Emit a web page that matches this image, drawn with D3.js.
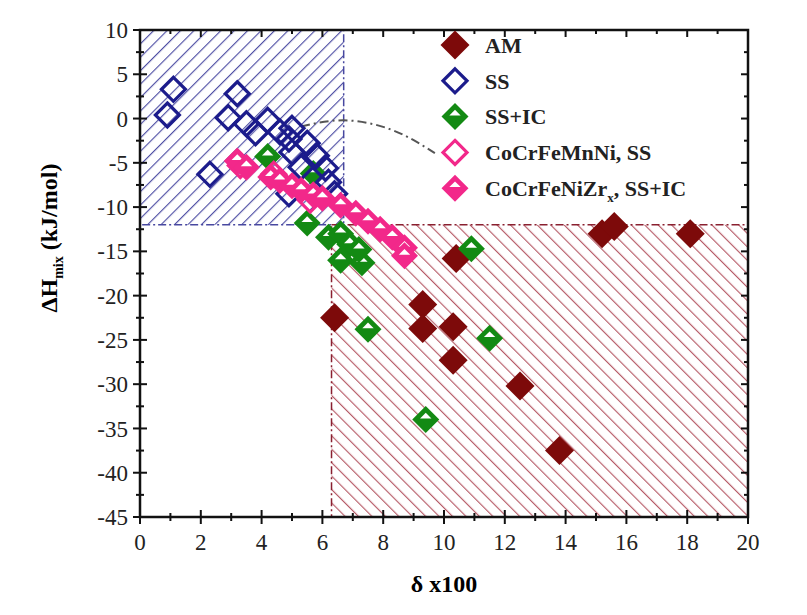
<!DOCTYPE html>
<html>
<head>
<meta charset="utf-8">
<script src="https://cdn.jsdelivr.net/npm/d3@7"></script>
<style>
  body { margin: 0; background: #fff; }
  svg { font-family: "Liberation Serif", "DejaVu Serif", serif; }
</style>
</head>
<body>
<svg id="chart" width="807" height="615"></svg>
<script>
// data (delta x100, dHmix kJ/mol)
const amPoints = [[6.4, -22.5], [9.3, -21.0], [9.3, -23.7], [10.3, -23.5], [10.3, -27.3], [10.4, -15.8],
  [12.5, -30.2], [13.8, -37.5], [15.2, -13.0], [15.6, -12.2], [18.1, -13.0]];
const ssPoints = [[0.9, 0.4], [1.1, 3.3], [2.3, -6.3], [2.9, 0.1], [3.2, 2.8], [3.5, -0.6], [3.8, -1.6],
  [4.2, -0.2], [4.6, -1.5], [5.0, -1.1], [4.9, -2.3], [5.0, -3.8], [5.5, -2.8], [5.8, -4.2], [6.1, -5.6],
  [5.3, -5.5], [4.9, -8.5], [6.2, -7.2], [6.4, -8.5]];
const ssIcPoints = [[4.2, -4.3], [5.7, -6.2], [5.5, -11.8], [6.2, -13.4], [6.6, -13.0], [6.9, -14.2],
  [6.6, -16.0], [7.3, -16.3], [7.2, -14.8], [7.5, -23.8], [9.4, -34.0], [10.9, -14.7], [11.5, -24.8]];
const mnNiPoints = [[3.3, -5.3], [4.4, -6.3], [5.6, -9.2]];
const zrPoints = [[3.2, -4.8], [3.5, -5.5], [4.3, -6.6], [4.6, -7.0], [5.0, -7.6], [5.3, -8.1], [5.7, -8.6],
  [6.0, -9.0], [6.6, -9.8], [7.1, -10.7], [7.5, -11.6], [7.9, -12.5], [8.3, -13.4], [8.7, -14.6], [8.7, -15.5]];

const xTicks = d3.range(0, 21, 2);
const yTicks = d3.range(10, -46, -5);
// shaded regions: [x0, x1, y0, y1]
const ssRegion = [0, 6.7, 10, -12];
const amRegion = [6.3, 20, -12, -45];
// dash-dot guide from the SS cluster to the legend
const guide = [[5.3, -0.9], [6.7, -0.2], [8.3, -1.3], [9.7, -3.9]];

const margin = { top: 30, right: 59, bottom: 98, left: 140 };
const width = 807 - margin.left - margin.right;
const height = 615 - margin.top - margin.bottom;

const x = d3.scaleLinear().domain([0, 20]).range([0, width]);
const y = d3.scaleLinear().domain([-45, 10]).range([height, 0]);

const svg = d3.select("#chart");
const defs = svg.append("defs");

const makeHatch = (id, color, angle) =>
{
  const p = defs.append("pattern")
    .attr("id", id)
    .attr("patternUnits", "userSpaceOnUse")
    .attr("width", 9.5).attr("height", 9.5)
    .attr("patternTransform", `rotate(${ angle })`);
  p.append("line")
    .attr("x1", 0).attr("y1", 0).attr("x2", 0).attr("y2", 9.5)
    .attr("stroke", color).attr("stroke-width", 2.3);
};
makeHatch("hatchBlue", "#4e4ea4", 45);
makeHatch("hatchRed", "#b65a66", -45);

const g = svg.append("g").attr("transform", `translate(${ margin.left },${ margin.top })`);

const region = (r, fill, stroke) =>
{
  g.append("rect")
    .attr("x", x(r[0])).attr("y", y(r[2]))
    .attr("width", x(r[1]) - x(r[0])).attr("height", y(r[3]) - y(r[2]))
    .attr("fill", fill);
  g.append("rect")
    .attr("x", x(r[0])).attr("y", y(r[2]))
    .attr("width", x(r[1]) - x(r[0])).attr("height", y(r[3]) - y(r[2]))
    .attr("fill", "none")
    .attr("stroke", stroke).attr("stroke-width", 1.5)
    .attr("stroke-dasharray", "8,3,2,3");
};
region(ssRegion, "url(#hatchBlue)", "#4848a0");
region(amRegion, "url(#hatchRed)", "#8a2030");

g.append("path")
  .attr("d", d3.line().curve(d3.curveNatural).x(d => x(d[0])).y(d => y(d[1]))(guide))
  .attr("fill", "none")
  .attr("stroke", "#555")
  .attr("stroke-width", 2)
  .attr("stroke-dasharray", "9,4,2,4");

// diamond markers
const R = 13.5;
const diamond = r => `M0,${ -r }L${ r },0L0,${ r }L${ -r },0Z`;
const notch = r => `M${ -0.42 * r },${ -0.08 * r }L${ 0.42 * r },${ -0.08 * r }L0,${ -0.5 * r }Z`;

const drawFilled = (data, color) =>
  g.append("g").selectAll("path").data(data).join("path")
    .attr("transform", d => `translate(${ x(d[0]) },${ y(d[1]) })`)
    .attr("d", diamond(R + 1))
    .attr("fill", color);

const drawHollow = (data, color) =>
  g.append("g").selectAll("path").data(data).join("path")
    .attr("transform", d => `translate(${ x(d[0]) },${ y(d[1]) })`)
    .attr("d", diamond(R - 1.5))
    .attr("fill", "none")
    .attr("stroke", color).attr("stroke-width", 3.2);

// half-filled: solid diamond with a small white cap
const drawHalf = (data, color) =>
{
  const m = g.append("g").selectAll("g").data(data).join("g")
    .attr("transform", d => `translate(${ x(d[0]) },${ y(d[1]) })`);
  m.append("path").attr("d", diamond(R)).attr("fill", color);
  m.append("path").attr("d", notch(R)).attr("fill", "#fff");
};

drawFilled(amPoints, "#7d0a0a");
drawHalf(ssIcPoints, "#138a13");
drawHollow(ssPoints, "#1c1c8c");
drawHollow(mnNiPoints, "#f2288a");
drawHalf(zrPoints, "#f2288a");

// axes frame and ticks
const axisG = g.append("g").attr("stroke", "#111");
axisG.append("rect")
  .attr("width", width).attr("height", height)
  .attr("fill", "none").attr("stroke-width", 2.5);

const xMinor = d3.range(1, 20, 2);
const yMinor = d3.range(7.5, -45, -5);
xTicks.forEach(t =>
{
  axisG.append("line").attr("x1", x(t)).attr("x2", x(t)).attr("y1", height - 7).attr("y2", height + 7).attr("stroke-width", 2);
  axisG.append("line").attr("x1", x(t)).attr("x2", x(t)).attr("y1", 0).attr("y2", 7).attr("stroke-width", 2);
});
xMinor.forEach(t =>
{
  axisG.append("line").attr("x1", x(t)).attr("x2", x(t)).attr("y1", height - 4).attr("y2", height + 4).attr("stroke-width", 2);
  axisG.append("line").attr("x1", x(t)).attr("x2", x(t)).attr("y1", 0).attr("y2", 4).attr("stroke-width", 2);
});
yTicks.forEach(t =>
{
  axisG.append("line").attr("y1", y(t)).attr("y2", y(t)).attr("x1", -7).attr("x2", 7).attr("stroke-width", 2);
  axisG.append("line").attr("y1", y(t)).attr("y2", y(t)).attr("x1", width - 7).attr("x2", width).attr("stroke-width", 2);
});
yMinor.forEach(t =>
{
  axisG.append("line").attr("y1", y(t)).attr("y2", y(t)).attr("x1", -4).attr("x2", 4).attr("stroke-width", 2);
  axisG.append("line").attr("y1", y(t)).attr("y2", y(t)).attr("x1", width - 4).attr("x2", width).attr("stroke-width", 2);
});

g.append("g").selectAll("text").data(xTicks).join("text")
  .attr("x", d => x(d)).attr("y", height + 33)
  .attr("text-anchor", "middle")
  .style("font-size", "23px").attr("fill", "#222")
  .text(d => d);
g.append("g").selectAll("text").data(yTicks).join("text")
  .attr("x", -12).attr("y", d => y(d)).attr("dy", "0.35em")
  .attr("text-anchor", "end")
  .style("font-size", "23px").attr("fill", "#222")
  .text(d => d);

// axis titles
g.append("text")
  .attr("x", x(10)).attr("y", height + 75)
  .attr("text-anchor", "middle")
  .style("font-size", "24px").style("font-weight", "bold")
  .text("δ x100");

const yt = svg.append("text")
  .attr("transform", `translate(57,${ margin.top + y(-13.5) }) rotate(-90)`)
  .attr("text-anchor", "middle")
  .style("font-size", "24px").style("font-weight", "bold");
yt.append("tspan").text("ΔH");
yt.append("tspan").attr("dy", 6).style("font-size", "14px").text("mix");
yt.append("tspan").attr("dy", -6).text(" (kJ/mol)");

// legend
const legendItems = [
  { label: "AM", color: "#7d0a0a", kind: "filled" },
  { label: "SS", color: "#1c1c8c", kind: "hollow" },
  { label: "SS+IC", color: "#138a13", kind: "half" },
  { label: "CoCrFeMnNi, SS", color: "#f2288a", kind: "hollow" },
  { label: "CoCrFeNiZr", sub: "x", tail: ", SS+IC", color: "#f2288a", kind: "half" }
];
const legend = svg.append("g").attr("transform", "translate(455,45)");
const li = legend.selectAll("g").data(legendItems).join("g")
  .attr("transform", (d, i) => `translate(0,${ i * 35.8 })`);
li.each(function (d)
{
  const s = d3.select(this);
  if (d.kind === "filled")
  {
    s.append("path").attr("d", diamond(R + 1)).attr("fill", d.color);
  }
  else if (d.kind === "hollow")
  {
    s.append("path").attr("d", diamond(R - 1.5)).attr("fill", "none").attr("stroke", d.color).attr("stroke-width", 3.2);
  }
  else
  {
    s.append("path").attr("d", diamond(R)).attr("fill", d.color);
    s.append("path").attr("d", notch(R)).attr("fill", "#fff");
  }
  const t = s.append("text").attr("x", 30).attr("dy", "0.35em")
    .style("font-size", "22px").style("font-weight", "bold").attr("fill", "#222");
  t.append("tspan").text(d.label);
  if (d.sub)
  {
    t.append("tspan").attr("dy", 6).style("font-size", "13px").text(d.sub);
    t.append("tspan").attr("dy", -6).text(d.tail);
  }
});
</script>
</body>
</html>
